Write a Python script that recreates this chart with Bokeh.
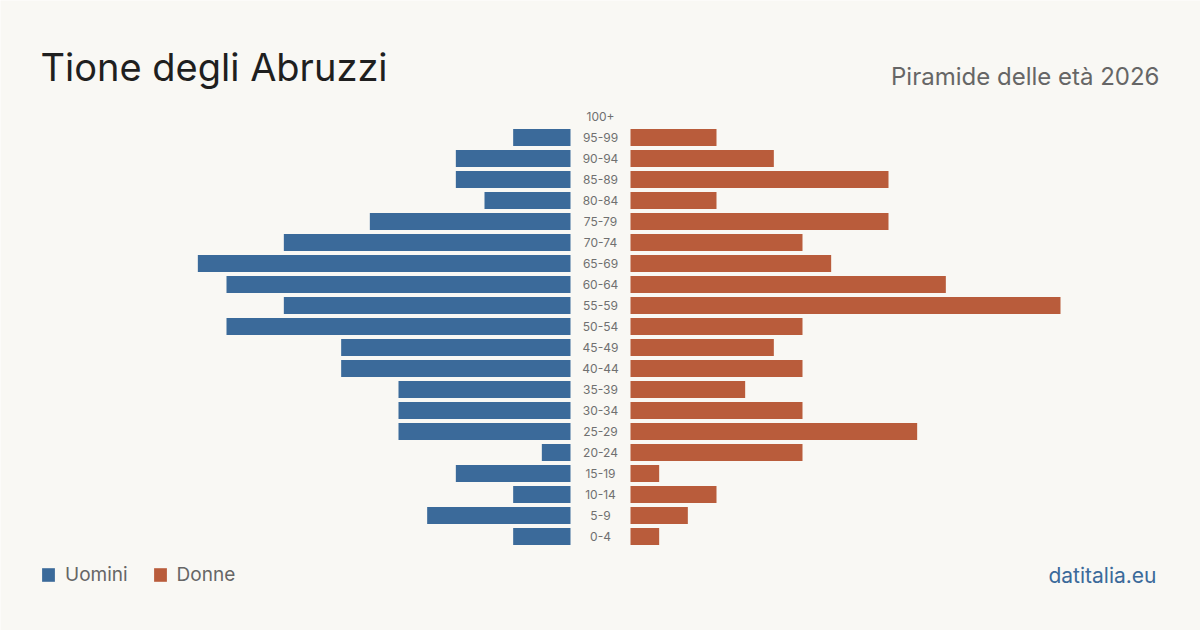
from bokeh.plotting import figure
from bokeh.models import ColumnDataSource, Range1d, Label, Legend, LegendItem
from bokeh.embed import file_html
from bokeh.resources import INLINE
from bokeh.core.properties import value

# ---- data (bottom to top) ----
age_groups = ["0-4", "5-9", "10-14", "15-19", "20-24", "25-29", "30-34", "35-39",
              "40-44", "45-49", "50-54", "55-59", "60-64", "65-69", "70-74", "75-79",
              "80-84", "85-89", "90-94", "95-99", "100+"]
males = [2, 5, 2, 4, 1, 6, 6, 6, 8, 8, 12, 10, 12, 13, 10, 7, 3, 4, 4, 2, 0]
females = [1, 2, 3, 1, 6, 10, 6, 4, 6, 5, 6, 15, 11, 7, 6, 9, 3, 9, 5, 3, 0]

title_text = "Tione degli Abruzzi"
subtitle_text = "Piramide delle età 2026"
credit_text = "datitalia.eu"

# ---- styles ----
BG = "#f9f8f4"
BLUE = "#3b6a9a"
ORANGE = "#b95c3b"
W, H = 1200, 630
PX_PER_UNIT = 430 / 15.0
GAP = 30 / PX_PER_UNIT          # half-width of the central label column, in data units
ROW_PX = 21.0
ROW0_PX_FROM_TOP = 536.0

idx = list(range(len(age_groups)))
src = ColumnDataSource(dict(
    y=idx,
    age=age_groups,
    m_left=[-(GAP + v) for v in males],
    m_right=[-GAP] * len(males),
    f_left=[GAP] * len(females),
    f_right=[GAP + v for v in females],
))

half = (W / 2) / PX_PER_UNIT
y_top = ROW0_PX_FROM_TOP / ROW_PX
y_bot = (ROW0_PX_FROM_TOP - H) / ROW_PX

p = figure(width=W, height=H, output_backend="svg", toolbar_location=None,
           x_range=Range1d(-half, half), y_range=Range1d(y_bot, y_top),
           min_border=0, min_border_left=0, min_border_right=0,
           min_border_top=0, min_border_bottom=0)
p.axis.visible = False
p.grid.visible = False
p.outline_line_color = None
p.background_fill_color = BG
p.border_fill_color = BG

rm = p.hbar(y="y", left="m_left", right="m_right", height=0.81, source=src,
            fill_color=BLUE, line_color=None)
rf = p.hbar(y="y", left="f_left", right="f_right", height=0.81, source=src,
            fill_color=ORANGE, line_color=None)

p.text(x=0, y="y", text="age", source=src, text_align="center", text_baseline="middle",
       text_font=value("Inter"), text_font_size=value("12px"), text_color="#707070")

p.add_layout(Label(x=40, y=H - 81 + 15, x_units="screen", y_units="screen", text=title_text,
                   text_font="Inter", text_font_size="38px", text_color="#1f1f1f",
                   text_baseline="alphabetic"))
p.add_layout(Label(x=1159, y=H - 85 + 9.5, x_units="screen", y_units="screen", text=subtitle_text,
                   text_font="Inter", text_font_size="24px", text_color="#666666",
                   text_align="right", text_baseline="alphabetic"))
p.add_layout(Label(x=1156, y=H - 583 + 8.5, x_units="screen", y_units="screen", text=credit_text,
                   text_font="Inter", text_font_size="21px", text_color=BLUE,
                   text_align="right", text_baseline="alphabetic"))

legend = Legend(items=[LegendItem(label="Uomini", renderers=[rm]),
                       LegendItem(label="Donne", renderers=[rf])],
                location=(40, 44), orientation="horizontal",
                background_fill_alpha=0, border_line_alpha=0,
                padding=0, margin=0, spacing=24, label_standoff=9,
                glyph_width=16, glyph_height=17, label_height=17,
                label_text_font="Inter", label_text_font_size="19px",
                label_text_color="#666666")
p.add_layout(legend)

open("out.html", "w").write(file_html(p, INLINE))
